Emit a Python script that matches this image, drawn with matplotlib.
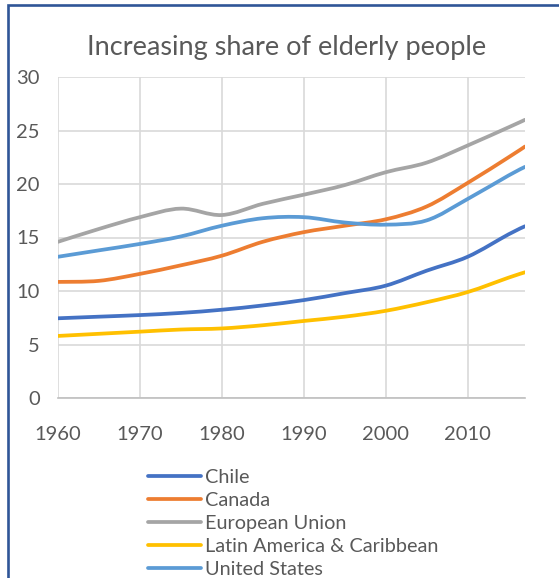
import numpy as np
import matplotlib.pyplot as plt
from matplotlib.path import Path
from matplotlib.patches import PathPatch, Rectangle
from matplotlib.lines import Line2D

# share of population aged 65+ (%)
years = [1960, 1965, 1970, 1975, 1980, 1985, 1990, 1995, 2000, 2005, 2010, 2015, 2017]
chile = [7.45, 7.6, 7.75, 7.95, 8.25, 8.65, 9.15, 9.8, 10.5, 11.9, 13.2, 15.3, 16.05]
canada = [10.85, 10.95, 11.6, 12.4, 13.3, 14.6, 15.5, 16.1, 16.7, 17.9, 20.1, 22.5, 23.5]
eu = [14.6, 15.8, 16.9, 17.7, 17.1, 18.15, 19.0, 19.9, 21.1, 22.0, 23.6, 25.3, 26.0]
latam = [5.8, 6.0, 6.2, 6.4, 6.5, 6.8, 7.2, 7.6, 8.15, 8.95, 9.9, 11.25, 11.75]
usa = [13.2, 13.8, 14.4, 15.1, 16.1, 16.8, 16.9, 16.4, 16.2, 16.6, 18.6, 20.8, 21.6]

series = [
    ("Chile", chile, "#4472C4"),
    ("Canada", canada, "#ED7D31"),
    ("European Union", eu, "#A5A5A5"),
    ("Latin America & Caribbean", latam, "#FFC000"),
    ("United States", usa, "#5B9BD5"),
]

x_ticks = [1960, 1970, 1980, 1990, 2000, 2010]
y_ticks = [0, 5, 10, 15, 20, 25, 30]

plt.rcParams['font.family'] = ['Lato', 'DejaVu Sans']
text_col = "#595959"


def smooth_path(xs, ys):
    # Excel-style smoothed line: cubic Bezier through every point
    pts = np.column_stack([xs, ys]).astype(float)
    n = len(pts)
    verts = [pts[0]]
    codes = [Path.MOVETO]
    for i in range(n - 1):
        p_prev = pts[max(i - 1, 0)]
        p0, p1 = pts[i], pts[i + 1]
        p_next = pts[min(i + 2, n - 1)]
        c1 = p0 + (p1 - p_prev) / 6.0
        c2 = p1 - (p_next - p0) / 6.0
        verts += [c1, c2, p1]
        codes += [Path.CURVE4] * 3
    return Path(verts, codes)


fig = plt.figure(figsize=(5.59, 5.78), dpi=100)
ax = fig.add_axes([58 / 559, 1 - 398 / 578, 467 / 559, 321 / 578])

handles = []
for name, vals, col in series:
    ax.add_patch(PathPatch(smooth_path(years, vals), facecolor="none",
                           edgecolor=col, lw=2.7, capstyle="round", zorder=3))
    handles.append(Line2D([], [], color=col, lw=2.7, solid_capstyle="round"))

ax.set_xlim(1960, 2017)
ax.set_ylim(0, 30)
ax.set_xticks(x_ticks)
ax.set_yticks(y_ticks)
ax.grid(True, color="#D9D9D9", lw=1.2)
ax.set_axisbelow(True)
for s in ["top", "right", "left"]:
    ax.spines[s].set_visible(False)
ax.spines["bottom"].set_color("#BFBFBF")
ax.spines["bottom"].set_linewidth(1.2)
ax.tick_params(length=0, labelsize=14.5, labelcolor=text_col)
ax.tick_params(axis="x", pad=20)
ax.tick_params(axis="y", pad=13)

fig.text(0.513, 1 - 47 / 578, "Increasing share of elderly people",
         ha="center", va="center", fontsize=19.5, color=text_col)

fig.legend(handles, [s[0] for s in series], loc="upper left",
           bbox_to_anchor=(140 / 559, 1 - 461 / 578), frameon=False,
           fontsize=14.3, labelcolor=text_col, handlelength=2.65,
           handletextpad=0.2, labelspacing=0.3, borderaxespad=0)

# blue frame around the chart
fig.add_artist(Rectangle((7.5 / 559, -0.05), 1.2, 1.05 - 5.5 / 578,
                         transform=fig.transFigure, fill=False,
                         edgecolor="#2F5597", lw=1.9, clip_on=False))

fig.savefig("out.png", dpi=100)
